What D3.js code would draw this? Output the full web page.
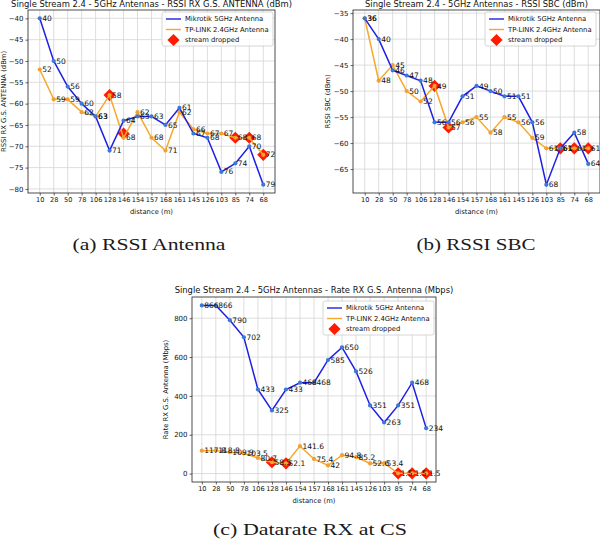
<!DOCTYPE html>
<html>
<head>
<meta charset="utf-8">
<script src="https://cdn.jsdelivr.net/npm/d3@7"></script>
<style>
  html, body { margin: 0; padding: 0; background: #fff; }
  svg { display: block; }
</style>
</head>
<body>
<svg id="chart" width="600" height="541"></svg>
<script>
// ---------------- DATA ----------------
const distances = ["10","28","50","78","106","128","146","154","157","168","161","145","126","103","85","74","68"];

const rssiAntMikrotik = [-40,-50,-56,-60,-63,-71,-64,-63,-63,-65,-61,-67,-68,-76,-74,-70,-79];
const rssiAntTplink   = [-52,-59,-59,-62,-63,-58,-68,-62,-68,-71,-62,-66,-67,-67,-68,-68,-72];
const rssiAntDropped  = [-58,-67,-68,-68,-72];

const rssiSbcMikrotik = [-36,-40,-46,-47,-48,-56,-56,-51,-49,-50,-51,-51,-56,-68,-61,-58,-64];
const rssiSbcTplink   = [-36,-48,-45,-50,-52,-49,-57,-56,-55,-58,-55,-56,-59,-61,-61,-61,-61];
const rssiSbcDropped  = [-49,-57,-61,-61,-61];

const rateMikrotik = [866,866,790,702,433,325,433,468,468,585,650,526,351,263,351,468,234];
const rateTplink   = [117.8,118.8,109.9,103.5,80.7,58.5,52.1,141.6,75.4,42,94.8,85.2,52.6,53.4,1.5,1.5,1.5];
const rateDropped  = [58.5,52.1,1.5,1.5,1.5];

const droppedIdx = [5,6,14,15,16];

const rssiAntTicks = [-80,-75,-70,-65,-60,-55,-50,-45,-40];
const rssiSbcTicks = [-65,-60,-55,-50,-45,-40,-35];
const rateTicks    = [0,200,400,600,800];

const seriesNames = ["Mikrotik 5GHz Antenna","TP-LINK 2.4GHz Antenna","stream dropped"];
const captions = ["(a) RSSI Antenna","(b) RSSI SBC","(c) Datarate RX at CS"];

// ---------------- STYLE ----------------
const FONT = "DejaVu Sans, sans-serif";
const BLUE = "#1f1fe6", BLUE_M = "#3a78d8";
const ORANGE = "#f7a72a", ORANGE_M = "#f0a035";
const RED = "#ff1a00";

const svg = d3.select("#chart");

function panel(cfg) {
  const g = svg.append("g");
  const x = d3.scalePoint().domain(distances).range([cfg.left, cfg.right]).padding(cfg.pad);
  const y = d3.scaleLinear().domain(cfg.ydom).range([cfg.bottom, cfg.top]);

  // grid
  g.append("g").selectAll("line.gx").data(distances).join("line")
    .attr("x1", d => x(d)).attr("x2", d => x(d))
    .attr("y1", cfg.top).attr("y2", cfg.bottom)
    .attr("stroke", "#d4d4d4").attr("stroke-width", 0.8);
  g.append("g").selectAll("line.gy").data(cfg.ticks).join("line")
    .attr("x1", cfg.left).attr("x2", cfg.right)
    .attr("y1", d => y(d)).attr("y2", d => y(d))
    .attr("stroke", "#d4d4d4").attr("stroke-width", 0.8);

  // axes
  const xAxis = d3.axisBottom(x).tickSize(2.5).tickPadding(2);
  const gx = g.append("g").attr("transform", `translate(0,${cfg.bottom})`).call(xAxis);
  const yAxis = d3.axisLeft(y).tickValues(cfg.ticks).tickSize(2.5).tickPadding(2)
    .tickFormat(d => d < 0 ? "\u2212" + Math.abs(d) : d);
  const gy = g.append("g").attr("transform", `translate(${cfg.left},0)`).call(yAxis);
  [gx, gy].forEach(a => {
    a.select(".domain").remove();
    a.selectAll("text").attr("font-family", FONT).attr("font-size", 6.6).attr("fill", "#111");
    a.selectAll("line").attr("stroke", "#222").attr("stroke-width", 0.7);
  });
  gy.selectAll("text").attr("font-size", 7);

  // frame
  g.append("rect").attr("x", cfg.left).attr("y", cfg.top)
    .attr("width", cfg.right - cfg.left).attr("height", cfg.bottom - cfg.top)
    .attr("fill", "none").attr("stroke", "#222").attr("stroke-width", 0.8);

  // dropped diamonds
  const diamond = d3.symbol().type(d3.symbolDiamond2).size(95);
  g.append("g").selectAll("path").data(cfg.dropped).join("path")
    .attr("d", diamond)
    .attr("transform", (d, i) => `translate(${x(distances[droppedIdx[i]])},${y(d)})`)
    .attr("fill", RED);

  const line = d3.line().x((d, i) => x(distances[i])).y(d => y(d));
  const fmt = cfg.fmt;
  [[cfg.s2, ORANGE, ORANGE_M], [cfg.s1, BLUE, BLUE_M]].forEach(([s, c, m]) => {
    g.append("path").datum(s).attr("d", line).attr("fill", "none")
      .attr("stroke", c).attr("stroke-width", 1.5);
    g.append("g").selectAll("circle").data(s).join("circle")
      .attr("cx", (d, i) => x(distances[i])).attr("cy", d => y(d)).attr("r", 2.1)
      .attr("fill", m);
  });
  [cfg.s2, cfg.s1].forEach(s => {
    g.append("g").selectAll("text").data(s).join("text")
      .attr("x", (d, i) => x(distances[i]) + 2.5).attr("y", d => y(d) + 2.6)
      .attr("font-family", FONT).attr("font-size", 7.5).attr("fill", "#111")
      .text(fmt);
  });

  // title
  g.append("text").attr("x", (cfg.left + cfg.right) / 2).attr("y", cfg.titleY)
    .attr("text-anchor", "middle").attr("font-family", FONT).attr("font-size", 8.4)
    .attr("fill", "#111").text(cfg.title);
  // axis labels
  g.append("text").attr("x", (cfg.left + cfg.right) / 2).attr("y", cfg.bottom + 21)
    .attr("text-anchor", "middle").attr("font-family", FONT).attr("font-size", 6.8)
    .attr("fill", "#111").text("distance (m)");
  g.append("text").attr("transform", `translate(${cfg.ylabX},${(cfg.top + cfg.bottom) / 2}) rotate(-90)`)
    .attr("text-anchor", "middle").attr("font-family", FONT).attr("font-size", 6.8)
    .attr("fill", "#111").text(cfg.ylabel);

  // legend
  const L = cfg.leg;
  g.append("rect").attr("x", L.x).attr("y", L.y).attr("width", 111).attr("height", 34)
    .attr("rx", 2).attr("fill", "rgba(255,255,255,0.85)").attr("stroke", "#ccc").attr("stroke-width", 0.8);
  const rows = [L.y + 7, L.y + 17.5, L.y + 28];
  g.append("line").attr("x1", L.x + 4).attr("x2", L.x + 19).attr("y1", rows[0]).attr("y2", rows[0])
    .attr("stroke", BLUE).attr("stroke-width", 1.4);
  g.append("line").attr("x1", L.x + 4).attr("x2", L.x + 19).attr("y1", rows[1]).attr("y2", rows[1])
    .attr("stroke", ORANGE).attr("stroke-width", 1.4);
  g.append("path").attr("d", diamond).attr("transform", `translate(${L.x + 11.5},${rows[2]})`).attr("fill", RED);
  seriesNames.forEach((n, i) => {
    g.append("text").attr("x", L.x + 23).attr("y", rows[i] + 2.4)
      .attr("font-family", FONT).attr("font-size", 6.8).attr("fill", "#111").text(n);
  });

  // caption
  svg.append("text").attr("x", cfg.capX).attr("y", cfg.capY).attr("text-anchor", "middle")
    .attr("font-family", "Liberation Serif, serif").attr("font-size", 16.5).attr("fill", "#1a1a1a")
    .attr("textLength", cfg.capW).attr("lengthAdjust", "spacingAndGlyphs")
    .text(cfg.caption);
}

const absFmt = d => Math.abs(d);
const rateFmt = d => d;

panel({
  left: 28, right: 275, top: 10, bottom: 193, pad: 0.84,
  ydom: [-80.95, -38.05], ticks: rssiAntTicks,
  s1: rssiAntMikrotik, s2: rssiAntTplink, dropped: rssiAntDropped, fmt: absFmt,
  title: "Single Stream 2.4 - 5GHz Antennas - RSSI RX G.S. ANTENNA (dBm)", titleY: 7,
  ylabel: "RSSI RX G.S. ANTENNA (dBm)", ylabX: 6,
  leg: { x: 162, y: 12 },
  caption: captions[0], capX: 149, capY: 250, capW: 153
});

panel({
  left: 353, right: 600, top: 10, bottom: 193, pad: 0.84,
  ydom: [-69.6, -34.4], ticks: rssiSbcTicks,
  s1: rssiSbcMikrotik, s2: rssiSbcTplink, dropped: rssiSbcDropped, fmt: absFmt,
  title: "Single Stream 2.4 - 5GHz Antennas - RSSI SBC (dBm)", titleY: 7,
  ylabel: "RSSI SBC (dBm)", ylabX: 330,
  leg: { x: 485, y: 12 },
  caption: captions[1], capX: 476, capY: 250, capW: 119
});

panel({
  left: 192, right: 436, top: 297, bottom: 482, pad: 0.7,
  ydom: [-43.3, 909.3], ticks: rateTicks,
  s1: rateMikrotik, s2: rateTplink, dropped: rateDropped, fmt: rateFmt,
  title: "Single Stream 2.4 - 5GHz Antennas - Rate RX G.S. Antenna (Mbps)", titleY: 293,
  ylabel: "Rate RX G.S. Antenna (Mbps)", ylabX: 168,
  leg: { x: 323, y: 301 },
  caption: captions[2], capX: 310, capY: 535, capW: 194
});
</script>
</body>
</html>
